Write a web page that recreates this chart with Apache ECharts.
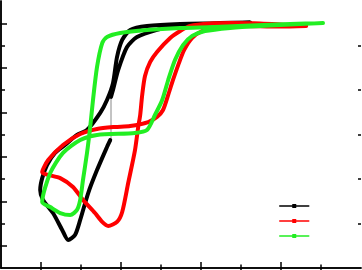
<!DOCTYPE html>
<html>
<head>
<meta charset="utf-8">
<script src="https://cdn.jsdelivr.net/npm/echarts@6/dist/echarts.min.js"></script>
<style>
html,body{margin:0;padding:0;background:#fff;}
#c{width:362px;height:270px;}
</style>
</head>
<body>
<div id="c"></div>
<script>
// ---- data (arbitrary units) ----
var seriesNames = ['S1', 'S2', 'S3'];
var blackX = [2.75,2.80,2.93,3.15,3.40,3.90,4.48,5.48,6.23,5.48,4.48,3.65,3.23,3.03,2.90,2.80,2.65,2.48,2.15,1.90,1.60,1.35,1.15,1.03,0.98,1.05,1.30,1.53,1.68,1.85,1.98,2.18,2.40,2.65,2.73];
var blackY = [7.69,8.00,8.90,9.93,10.38,10.70,10.92,11.01,11.03,10.99,10.97,10.88,10.70,10.25,9.48,8.31,7.55,6.97,6.20,5.98,5.53,5.17,4.63,4.04,3.51,3.06,2.47,1.71,1.26,1.48,2.16,3.37,4.40,5.44,5.75];
var redX = [7.63,6.48,5.73,5.23,4.73,4.48,4.23,3.90,3.73,3.60,3.53,3.48,3.43,3.35,3.18,3.03,2.90,2.68,2.53,2.35,2.05,1.80,1.48,1.03,1.18,1.55,1.98,2.40,2.85,3.23,3.68,3.90,4.05,4.18,4.30,4.43,4.58,4.78,5.03,5.35,5.98,6.98,7.63];
var redY = [10.88,10.99,11.01,10.99,10.88,10.65,10.34,9.71,9.26,8.63,7.78,6.88,6.34,5.30,3.82,2.52,2.07,1.89,2.07,2.47,3.06,3.64,4.04,4.31,4.85,5.53,6.02,6.25,6.34,6.38,6.56,6.79,7.10,7.78,8.45,9.12,9.80,10.34,10.65,10.81,10.88,10.85,10.88];
var greenX = [8.05,7.23,6.23,5.33,4.48,3.65,2.98,2.65,2.53,2.40,2.30,2.23,2.15,2.05,1.98,1.90,1.73,1.48,1.23,1.03,1.23,1.55,1.98,2.40,3.35,3.65,3.85,4.03,4.18,4.35,4.55,4.78,5.10,5.73,6.48,7.23,8.05];
var greenY = [11.01,10.97,10.90,10.83,10.79,10.70,10.56,10.38,10.11,9.03,7.55,6.34,5.17,3.96,3.06,2.61,2.38,2.47,2.74,2.97,4.27,5.17,5.75,5.98,6.07,6.20,6.88,7.55,8.45,9.35,10.02,10.43,10.65,10.79,10.88,10.94,11.01];
var guideX = [2.75, 2.75];
var guideY = [7.69, 5.75];
var xMajorTicks = [1, 3, 5, 7];
var xMinorTicks = [2, 4, 6, 8];
var xAllTicks = [1, 2, 3, 4, 5, 6, 7, 8];
var yMajorTicks = [1, 3, 5, 7, 9, 11];
var yMinorTicks = [2, 4, 6, 8, 10];

function zip(xs, ys) { return xs.map(function (v, i) { return [v, ys[i]]; }); }

var tickStyle = { color: '#000', width: 1.5 };
function xAx(pos, ticks, len, line) {
  return { type: 'value', gridIndex: 0, min: 0, max: 9, position: pos,
    axisLine: { show: line, lineStyle: { color: '#000', width: 1.5 } },
    axisTick: { show: true, inside: true, length: len, customValues: ticks, lineStyle: tickStyle },
    axisLabel: { show: false }, splitLine: { show: false } };
}
function yAx(pos, ticks, len, line) {
  return { type: 'value', gridIndex: 0, min: 0, max: 12, position: pos,
    axisLine: { show: line, lineStyle: { color: '#000', width: 1.5 } },
    axisTick: { show: true, inside: true, length: len, customValues: ticks, lineStyle: tickStyle },
    axisLabel: { show: false }, splitLine: { show: false } };
}
function lineSeries(name, color, xs, ys) {
  return { name: name, type: 'line', xAxisIndex: 0, yAxisIndex: 0, data: zip(xs, ys),
    smooth: 0.25, symbol: 'rect', symbolSize: 5, showSymbol: false,
    itemStyle: { color: color },
    lineStyle: { color: color, width: 4, join: 'round', cap: 'round' } };
}

var chart = echarts.init(document.getElementById('c'), null, { renderer: 'canvas' });
chart.setOption({
  animation: false,
  backgroundColor: '#fff',
  grid: { left: 1, top: 1, width: 360, height: 267, containLabel: false },
  xAxis: [
    xAx('bottom', xMajorTicks, 6, true),
    xAx('bottom', xMinorTicks, 3.5, false),
    xAx('top', xAllTicks, 5, true)
  ],
  yAxis: [
    yAx('left', yMajorTicks, 6, true),
    yAx('left', yMinorTicks, 4, false),
    yAx('right', yMajorTicks, 5, true),
    yAx('right', yMinorTicks, 3, false)
  ],
  legend: {
    data: seriesNames, orient: 'vertical', left: 279, top: 203.5, padding: 0,
    itemWidth: 29, itemHeight: 5, itemGap: 10.5,
    lineStyle: { width: 1.5 },
    formatter: function () { return ''; },
    textStyle: { fontSize: 1 }
  },
  series: [
    lineSeries(seriesNames[0], '#000000', blackX, blackY),
    lineSeries(seriesNames[1], '#ff0000', redX, redY),
    lineSeries(seriesNames[2], '#22ee22', greenX, greenY),
    { name: 'guide', type: 'line', data: zip(guideX, guideY), symbol: 'none',
      lineStyle: { color: '#888', width: 1 }, z: 1 }
  ]
});
</script>
</body>
</html>
